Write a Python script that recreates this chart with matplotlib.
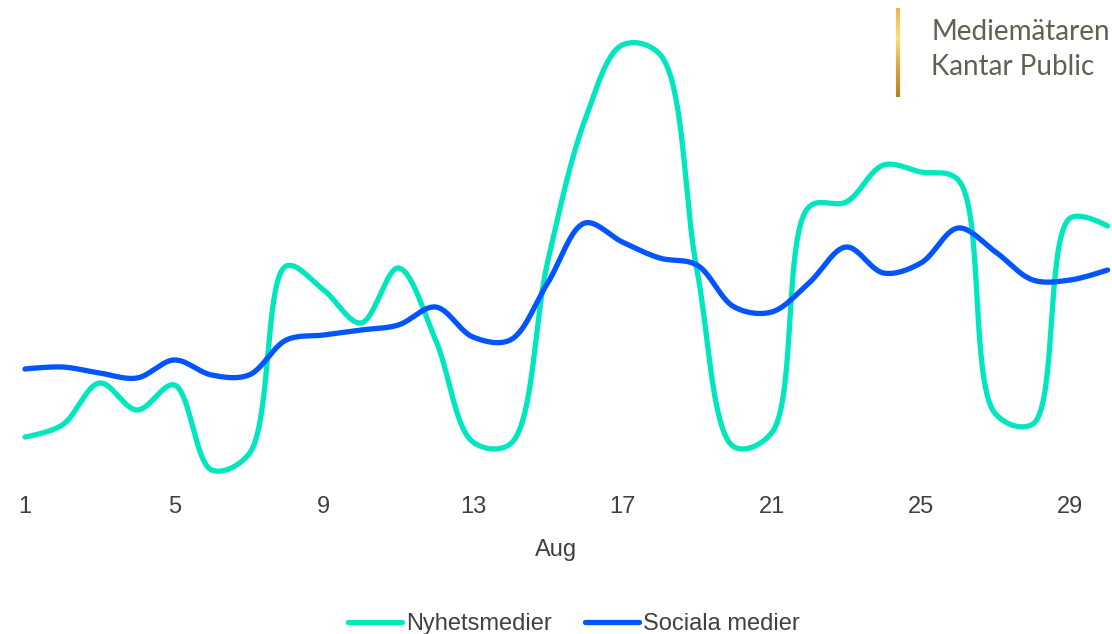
import numpy as np
import matplotlib
matplotlib.use("Agg")
import matplotlib.pyplot as plt
from matplotlib.collections import LineCollection

# daily values, August (index, arbitrary units)
days = list(range(1, 31))
nyhetsmedier = [6.3, 7.5, 11.7, 9.0, 11.5, 3.0, 4.6, 23.4, 21.0, 17.7,
                23.2, 16.0, 5.8, 5.6, 23.8, 38.0, 45.5, 44.6, 23.0, 5.3,
                6.7, 29.3, 29.8, 33.5, 32.8, 32.0, 8.6, 7.6, 28.2, 27.4]
sociala_medier = [13.1, 13.3, 12.7, 12.2, 14.0, 12.5, 12.5, 16.0, 16.5, 17.0,
                  17.5, 19.3, 16.3, 16.0, 21.7, 27.7, 25.8, 24.2, 23.5, 19.3,
                  18.8, 21.7, 25.3, 22.7, 23.7, 27.2, 24.8, 22.0, 22.0, 23.0]
xticks = [1, 5, 9, 13, 17, 21, 25, 29]

PX_DAY = 37.33   # pixels per day
PX_UNIT = 10.0   # pixels per value unit


def smooth(x, y, n=40, alpha=0.5):
    # centripetal catmull-rom (d3 curveCatmullRom), worked out in pixel space
    P = np.column_stack([np.asarray(x, float) * PX_DAY, np.asarray(y, float) * PX_UNIT])
    k = len(P)
    out = [P[:1]]
    t = np.linspace(0, 1, n)[1:, None]
    for i in range(k - 1):
        p1, p2 = P[i], P[i + 1]
        l12 = np.linalg.norm(p2 - p1) ** alpha
        c1 = p1.copy(); c2 = p2.copy()
        if i > 0:
            p0 = P[i - 1]
            l01 = np.linalg.norm(p1 - p0) ** alpha
            if l01 > 1e-9:
                a = 2 * l01**2 + 3 * l01 * l12 + l12**2
                m = 3 * l01 * (l01 + l12)
                c1 = (p1 * a - p0 * l12**2 + p2 * l01**2) / m
        if i < k - 2:
            p3 = P[i + 2]
            l23 = np.linalg.norm(p3 - p2) ** alpha
            if l23 > 1e-9:
                b = 2 * l23**2 + 3 * l23 * l12 + l12**2
                m = 3 * l23 * (l23 + l12)
                c2 = (p2 * b + p1 * l23**2 - p3 * l12**2) / m
        seg = (1-t)**3*p1 + 3*(1-t)**2*t*c1 + 3*(1-t)*t**2*c2 + t**3*p2
        out.append(seg)
    out = np.vstack(out)
    return out[:, 0] / PX_DAY, out[:, 1] / PX_UNIT


plt.rcParams['font.family'] = ['Liberation Sans', 'DejaVu Sans']
fig = plt.figure(figsize=(11.12, 6.34), dpi=100)
ax = fig.add_axes([0, 144/634, 1, 490/634])

green = '#00E6BE'
blue = '#0055FF'
gx, gy = smooth(days, nyhetsmedier)
bx, by = smooth(days, sociala_medier)
ax.plot(gx, gy, color=green, lw=3.8, solid_capstyle='round', label='Nyhetsmedier')
ax.plot(bx, by, color=blue, lw=3.8, solid_capstyle='round', label='Sociala medier')

ax.set_xlim(1 - 25/PX_DAY, 1 + 1087/PX_DAY)
ax.set_ylim(1, 50)
for s in ax.spines.values():
    s.set_visible(False)
ax.set_yticks([])
ax.set_xticks(xticks)
ax.set_xticklabels([str(t) for t in xticks])
ax.tick_params(axis='x', length=0, pad=4, labelsize=17, labelcolor='#404040')
ax.set_xlabel('Aug', fontsize=17, color='#404040', labelpad=15.5)

fig.legend(loc='center', bbox_to_anchor=(0.516, 0.016), ncol=2, frameon=False,
           fontsize=17, handlelength=2.3, handletextpad=0.15, columnspacing=1.4,
           labelcolor='#404040')

# logo bar with gold gradient
ys = np.linspace(1 - 8/634, 1 - 97/634, 60)
segs = [[(898/1112, ys[i]), (898/1112, ys[i+1])] for i in range(len(ys) - 1)]
gold = matplotlib.colors.LinearSegmentedColormap.from_list(
    'gold', ['#E8B84A', '#FBE07A', '#D9A63A', '#B8821E'])
lc = LineCollection(segs, cmap=gold, linewidths=3, transform=fig.transFigure)
lc.set_array(np.linspace(0, 1, len(segs)))
fig.add_artist(lc)
fig.text(931/1112, 1 - 32/634, 'Mediemätaren', fontsize=20, color='#5F6152',
         family=['Lato', 'DejaVu Sans'], va='center', ha='left')
fig.text(931/1112, 1 - 67/634, 'Kantar Public', fontsize=20, color='#5F6152',
         family=['Lato', 'DejaVu Sans'], va='center', ha='left')

fig.savefig('out.png', dpi=100)
